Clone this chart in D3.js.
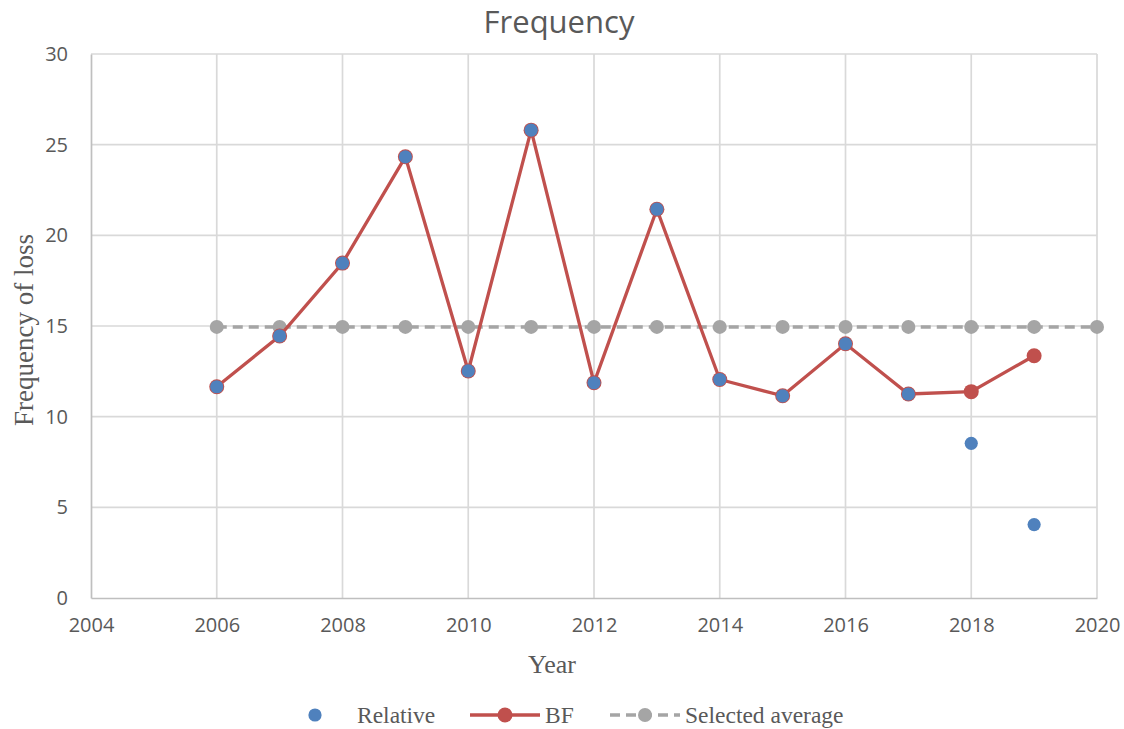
<!DOCTYPE html>
<meta charset="utf-8">
<script src="https://d3js.org/d3.v7.min.js"></script>
<style>
  body { margin: 0; background: #fff; }
  .tick text { font-family: "Open Sans", Calibri, sans-serif; font-size: 20px; fill: #595959; }
</style>
<body>
<div id="chart"></div>
<script>
// data
var years = [2006, 2007, 2008, 2009, 2010, 2011, 2012, 2013, 2014, 2015, 2016, 2017, 2018, 2019];
var relative = [11.65, 14.45, 18.47, 24.33, 12.52, 25.8, 11.87, 21.44, 12.05, 11.15, 14.02, 11.25, 8.53, 4.05];
var bf = [11.65, 14.45, 18.47, 24.33, 12.52, 25.8, 11.87, 21.44, 12.05, 11.15, 14.02, 11.25, 11.38, 13.36];
var avgYears = [2006, 2007, 2008, 2009, 2010, 2011, 2012, 2013, 2014, 2015, 2016, 2017, 2018, 2019, 2020];
var avgValues = [14.95, 14.95, 14.95, 14.95, 14.95, 14.95, 14.95, 14.95, 14.95, 14.95, 14.95, 14.95, 14.95, 14.95, 14.95];
var xTicks = [2004, 2006, 2008, 2010, 2012, 2014, 2016, 2018, 2020];
var yTicks = [0, 5, 10, 15, 20, 25, 30];

var W = 1124, H = 729;
var margin = {top: 54, right: 27, bottom: 131, left: 91};
var width = W - margin.left - margin.right,
    height = H - margin.top - margin.bottom;

var svgRoot = d3.select("#chart").append("svg")
    .attr("width", W).attr("height", H);
var svg = svgRoot.append("g")
    .attr("transform", "translate(" + margin.left + "," + margin.top + ")");

var x = d3.scaleLinear().domain([2004, 2020]).range([0, width]);
var y = d3.scaleLinear().domain([0, 30]).range([height, 0]);

// gridlines
svg.append("g")
    .selectAll("line").data(yTicks.slice(1)).enter().append("line")
    .attr("x1", 0).attr("x2", width)
    .attr("y1", function(d) { return y(d); }).attr("y2", function(d) { return y(d); })
    .style("stroke", "#d9d9d9").style("stroke-width", 1.7);
svg.append("g")
    .selectAll("line").data(xTicks.slice(1)).enter().append("line")
    .attr("y1", 0).attr("y2", height)
    .attr("x1", function(d) { return x(d); }).attr("x2", function(d) { return x(d); })
    .style("stroke", "#d9d9d9").style("stroke-width", 1.7);

// axes
var xAxis = svg.append("g")
    .attr("transform", "translate(0," + height + ")")
    .call(d3.axisBottom(x).tickValues(xTicks).tickFormat(d3.format("d")).tickSize(0).tickPadding(20));
xAxis.select(".domain").style("stroke", "#bfbfbf").style("stroke-width", 1.7);

var yAxis = svg.append("g")
    .call(d3.axisLeft(y).tickValues(yTicks).tickSize(0).tickPadding(23));
yAxis.select(".domain").style("stroke", "#bfbfbf").style("stroke-width", 1.7);

// selected average
svg.append("path")
    .datum(avgYears.map(function(d, i) { return [d, avgValues[i]]; }))
    .attr("fill", "none")
    .attr("stroke", "#a5a5a5")
    .attr("stroke-width", 3.5)
    .attr("stroke-dasharray", "10,6")
    .attr("d", d3.line().x(function(d) { return x(d[0]); }).y(function(d) { return y(d[1]); }));
svg.selectAll("circle.avg")
    .data(avgYears).enter().append("circle")
    .attr("class", "avg")
    .attr("cx", function(d) { return x(d); })
    .attr("cy", function(d, i) { return y(avgValues[i]); })
    .attr("r", 7)
    .style("fill", "#a5a5a5");

// BF
svg.append("path")
    .datum(years.map(function(d, i) { return [d, bf[i]]; }))
    .attr("fill", "none")
    .attr("stroke", "#c0504d")
    .attr("stroke-width", 3.3)
    .attr("d", d3.line().x(function(d) { return x(d[0]); }).y(function(d) { return y(d[1]); }));
svg.selectAll("circle.bf")
    .data(years).enter().append("circle")
    .attr("class", "bf")
    .attr("cx", function(d) { return x(d); })
    .attr("cy", function(d, i) { return y(bf[i]); })
    .attr("r", 7.5)
    .style("fill", "#c0504d");

// Relative
svg.selectAll("circle.rel")
    .data(years).enter().append("circle")
    .attr("class", "rel")
    .attr("cx", function(d) { return x(d); })
    .attr("cy", function(d, i) { return y(relative[i]); })
    .attr("r", 6.6)
    .style("fill", "#4f81bd");

// title
svgRoot.append("text")
    .attr("x", 559).attr("y", 33)
    .attr("text-anchor", "middle")
    .style("font-family", "'Open Sans', Calibri, sans-serif")
    .style("font-size", "31px")
    .style("fill", "#595959")
    .text("Frequency");

// axis titles
svgRoot.append("text")
    .attr("x", 552).attr("y", 673)
    .attr("text-anchor", "middle")
    .style("font-family", "'Liberation Serif', 'Times New Roman', serif")
    .style("font-size", "26px")
    .style("fill", "#595959")
    .text("Year");
svgRoot.append("text")
    .attr("transform", "translate(33,330)rotate(-90)")
    .attr("text-anchor", "middle")
    .style("font-family", "'Liberation Serif', 'Times New Roman', serif")
    .style("font-size", "27px")
    .style("fill", "#595959")
    .text("Frequency of loss");

// legend
var lg = svgRoot.append("g").attr("transform", "translate(0,715)");
var legendFont = function(sel) {
    sel.style("font-family", "'Liberation Serif', 'Times New Roman', serif")
       .style("font-size", "23.5px").style("fill", "#595959")
       .attr("dominant-baseline", "central");
};
lg.append("circle").attr("cx", 315).attr("cy", 0).attr("r", 6.6).style("fill", "#4f81bd");
lg.append("text").attr("x", 357).attr("y", 0).call(legendFont).text("Relative");

lg.append("line").attr("x1", 470).attr("x2", 540).attr("y1", 0).attr("y2", 0)
    .style("stroke", "#c0504d").style("stroke-width", 3.3);
lg.append("circle").attr("cx", 505).attr("cy", 0).attr("r", 7.5).style("fill", "#c0504d");
lg.append("text").attr("x", 545).attr("y", 0).call(legendFont).text("BF");

lg.append("line").attr("x1", 610).attr("x2", 680).attr("y1", 0).attr("y2", 0)
    .style("stroke", "#a5a5a5").style("stroke-width", 3.5).style("stroke-dasharray", "10,6");
lg.append("circle").attr("cx", 645).attr("cy", 0).attr("r", 7).style("fill", "#a5a5a5");
lg.append("text").attr("x", 685).attr("y", 0).call(legendFont).text("Selected average");
</script>
</body>
